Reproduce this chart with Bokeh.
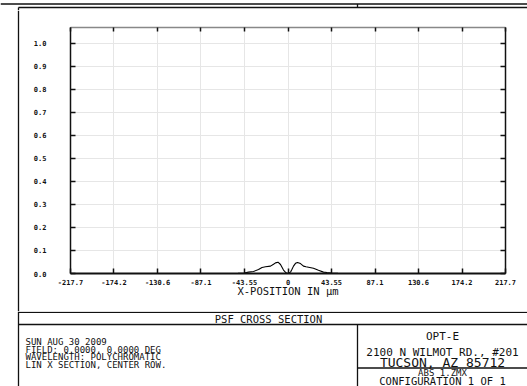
from bokeh.plotting import figure
from bokeh.layouts import column, row
from bokeh.models import Range1d, LinearAxis, FixedTicker, ColumnDataSource
from bokeh.core.properties import value
from bokeh.embed import file_html
from bokeh.resources import INLINE

# PSF cross section through the centre row (relative intensity vs. position in µm)
x_um = [-217.7, -60.0, -50.0, -44.0, -39.5, -34.5, -29.5, -26.0, -22.5, -17.5,
        -14.5, -12.5, -10.0, -7.5, -4.5, -2.0, 0.0, 2.5, 4.0, 5.5,
        7.5, 9.5, 12.5, 15.5, 18.0, 20.5, 25.5, 30.5, 35.5, 39.0,
        43.5, 50.0, 60.0, 217.7]
intensity = [0.0, 0.0, 0.001, 0.002, 0.006, 0.009, 0.017, 0.026, 0.029, 0.032,
             0.040, 0.046, 0.049, 0.039, 0.015, 0.003, 0.0, 0.006, 0.018, 0.032,
             0.044, 0.048, 0.043, 0.032, 0.029, 0.027, 0.023, 0.014, 0.006, 0.004,
             0.002, 0.001, 0.0, 0.0]

x_tick_labels = ["-217.7", "-174.2", "-130.6", "-87.1", "-43.55", "0",
                 "43.55", "87.1", "130.6", "174.2", "217.7"]
y_tick_labels = ["0.0", "0.1", "0.2", "0.3", "0.4", "0.5",
                 "0.6", "0.7", "0.8", "0.9", "1.0"]

x_axis_title = "X-POSITION IN µm"
plot_title = "PSF CROSS SECTION"
info_lines = ["SUN AUG 30 2009",
              "FIELD: 0.0000, 0.0000 DEG",
              "WAVELENGTH: POLYCHROMATIC",
              "LIN X SECTION, CENTER ROW."]
company_lines = ["OPT-E", "2100 N WILMOT RD., #201", "TUCSON, AZ 85712"]
file_lines = ["ABS 1.ZMX", "CONFIGURATION 1 OF 1"]

x_ticks = [float(s) for s in x_tick_labels]
y_ticks = [float(s) for s in y_tick_labels]

W, H = 527, 386
TOP_H = 10         # strip holding the double rule at the top of the sheet
LEFT_W = 30        # strip holding the sheet's left border
BLOCK_Y = 311      # where the title block starts
FL, FR, FT, FB = 70, 505, 27, 273   # plot frame edges on the page
MONO = "DejaVu Sans Mono"
INK = "#111111"
RULE_W = 1.3


def sheet(width, height, x0, y0):
    """A bare figure whose data coordinates are page pixels (y grows downward)."""
    f = figure(width=width, height=height, output_backend="svg", toolbar_location=None,
               x_range=Range1d(x0, x0 + width), y_range=Range1d(y0 + height, y0),
               x_axis_location=None, y_axis_location=None,
               min_border=0, min_border_left=0, min_border_right=0,
               min_border_top=0, min_border_bottom=0, frame_align=False)
    f.grid.visible = False
    f.outline_line_color = None
    f.background_fill_color = "white"
    f.border_fill_color = "white"
    return f


def rules(f, segs, w=RULE_W):
    f.segment(x0=[s[0] for s in segs], y0=[s[1] for s in segs],
              x1=[s[2] for s in segs], y1=[s[3] for s in segs],
              line_color=INK, line_width=w)


def words(f, xs, ys, texts, size, align="left"):
    f.text(x=xs, y=ys, text=texts, text_font=value(MONO), text_font_size=size,
           text_color=INK, text_align=align, text_baseline="middle")


# --- top strip: double rule across the sheet
top = sheet(W, TOP_H, 0, 0)
rules(top, [(0, 1.5, W, 1.5), (18, 5, W, 5), (357, 1.5, 357, 5), (18, 5, 18, TOP_H)])

# --- left strip: sheet border
left = sheet(LEFT_W, BLOCK_Y - TOP_H, 0, TOP_H)
rules(left, [(18, TOP_H, 18, BLOCK_Y)])

# --- the chart
main_w, main_h = W - LEFT_W, BLOCK_Y - TOP_H
p = figure(width=main_w, height=main_h, output_backend="svg", toolbar_location=None,
           x_range=Range1d(x_ticks[0], x_ticks[-1]), y_range=Range1d(0, 1.068),
           min_border_left=FL - LEFT_W, min_border_right=W - FR,
           min_border_top=FT - TOP_H, min_border_bottom=BLOCK_Y - FB,
           frame_align=False)
p.outline_line_color = None
p.background_fill_color = "white"
p.border_fill_color = "white"

p.add_layout(LinearAxis(), "above")
p.add_layout(LinearAxis(), "right")

bottom_ax = p.below[0]
top_ax = p.above[0]
left_ax = p.left[0]
right_ax = p.right[0]

for ax, ticks, labels in [(bottom_ax, x_ticks, x_tick_labels), (top_ax, x_ticks, None),
                          (left_ax, y_ticks, y_tick_labels), (right_ax, y_ticks, None)]:
    ax.ticker = FixedTicker(ticks=ticks)
    ax.major_tick_in = 5
    ax.major_tick_out = 0
    ax.minor_tick_line_color = None
    ax.axis_line_color = INK
    ax.axis_line_width = 1.5
    ax.major_tick_line_color = INK
    ax.major_tick_line_width = 1.5
    ax.major_label_text_font = MONO
    ax.major_label_text_font_style = "bold"
    ax.major_label_text_font_size = "7px"
    ax.major_label_text_color = INK
    if labels is None:
        ax.major_label_overrides = {t: "" for t in ticks}
        ax.major_label_standoff = 0
    else:
        ax.major_label_overrides = dict(zip(ticks, labels))

top_ax.axis_line_color = "#888888"
top_ax.major_tick_in = 4
bottom_ax.axis_line_width = 2
bottom_ax.major_label_standoff = 5
left_ax.major_label_standoff = 24
bottom_ax.axis_label = x_axis_title
bottom_ax.axis_label_text_font = MONO
bottom_ax.axis_label_text_font_style = "normal"
bottom_ax.axis_label_text_font_size = "10.5px"
bottom_ax.axis_label_text_color = INK
bottom_ax.axis_label_standoff = -3

p.xgrid.ticker = FixedTicker(ticks=x_ticks)
p.ygrid.ticker = FixedTicker(ticks=y_ticks)
p.xgrid.grid_line_color = "#e6e6e6"
p.ygrid.grid_line_color = "#e6e6e6"

src = ColumnDataSource(dict(x=x_um, y=intensity))
p.line("x", "y", source=src, line_color="black", line_width=1.1)

# --- title block under the chart
blk = sheet(W, H - BLOCK_Y, 0, BLOCK_Y)
rules(blk, [(18, BLOCK_Y, 18, H),
            (18, 311.8, W, 311.8),
            (18, 324, W, 324),
            (357, 324, 357, H),
            (357, 367.5, W, 367.5)])
words(blk, [268], [318], [plot_title], "10.5px", "center")
words(blk, [25] * len(info_lines), [341.5 + 7.5 * i for i in range(len(info_lines))],
      info_lines, "9px")
words(blk, [442], [336], [company_lines[0]], "11px", "center")
words(blk, [442], [351.5], [company_lines[1]], "11px", "center")
words(blk, [442], [361.5], [company_lines[2]], "13px", "center")
words(blk, [442], [372.8], [file_lines[0]], "9px", "center")
words(blk, [442], [380], [file_lines[1]], "10.5px", "center")

page = column(top, row(left, p, spacing=0), blk, spacing=0)
open("out.html", "w").write(file_html(page, INLINE))
